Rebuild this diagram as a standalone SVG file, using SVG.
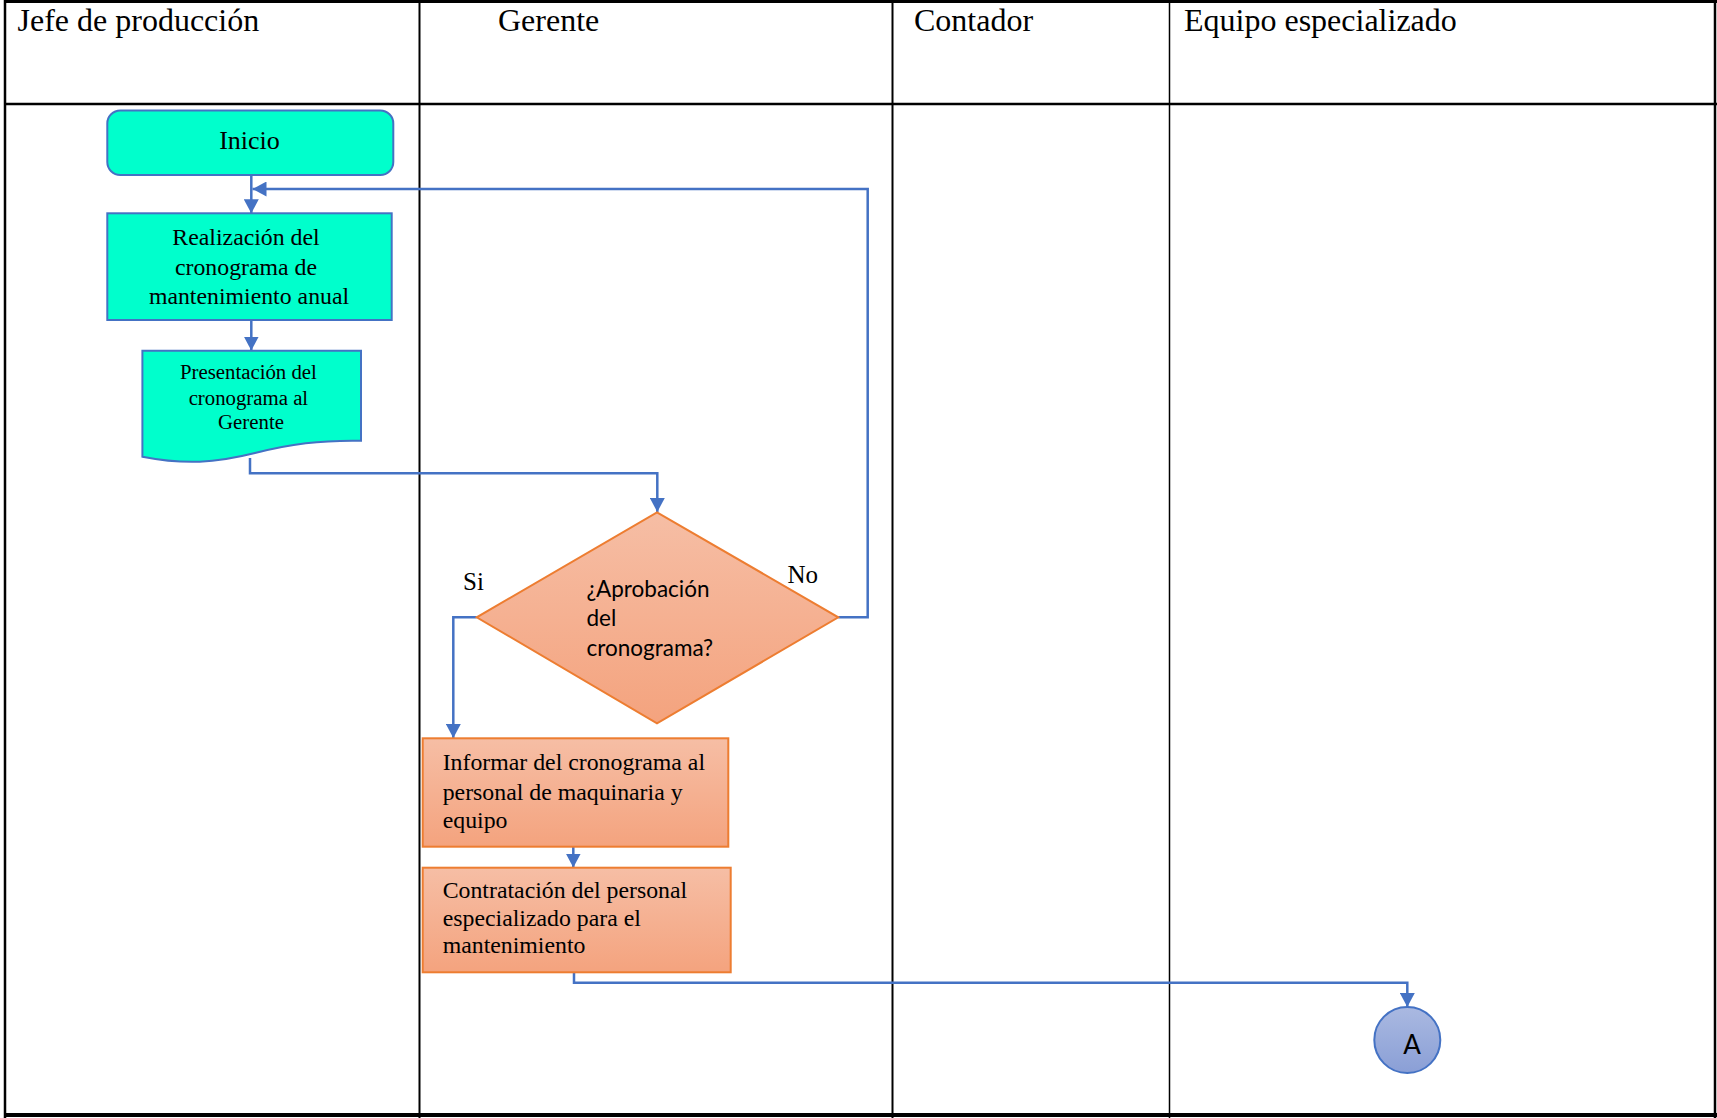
<svg xmlns="http://www.w3.org/2000/svg" width="1717" height="1118" viewBox="0 0 1717 1118">
  <style>
    .grid { stroke: #000; fill: none; }
    .hdr { font-family: "Liberation Serif", "Times New Roman", serif; font-size: 32px; fill: #000; }
    .serif { font-family: "Liberation Serif", "Times New Roman", serif; fill: #000; }
    .sans { font-family: Lato, "Liberation Sans", Arial, sans-serif; fill: #000; }
    .teal { fill: #00FFCC; stroke: #4472C4; stroke-width: 2; }
    .orange { fill: url(#gOrange); stroke: #ED7D31; stroke-width: 2; }
    .conn { fill: none; stroke: #4472C4; stroke-width: 2.5; marker-end: url(#arrow); }
  </style>
  <defs>
    <linearGradient id="gOrange" x1="0" y1="0" x2="0" y2="1">
      <stop offset="0" stop-color="#F6BEA5"/>
      <stop offset="1" stop-color="#F4A37E"/>
    </linearGradient>
    <linearGradient id="gBlue" x1="0" y1="0" x2="0" y2="1">
      <stop offset="0" stop-color="#AAB9E1"/>
      <stop offset="1" stop-color="#8A9FD6"/>
    </linearGradient>
    <marker id="arrow" viewBox="0 0 14 15" refX="14" refY="7.5" markerWidth="14" markerHeight="15" markerUnits="userSpaceOnUse" orient="auto">
      <path d="M0,0 L14,7.5 L0,15 Z" fill="#4472C4"/>
    </marker>
  </defs>

  <rect width="1717" height="1118" fill="#fff"/>

  <!-- swimlane table -->
  <g id="lanes">
    <line class="grid" x1="4" y1="1.5" x2="1717" y2="1.5" stroke-width="3"/>
    <line class="grid" x1="5" y1="0" x2="5" y2="1118" stroke-width="2.5"/>
    <line class="grid" x1="1715" y1="0" x2="1715" y2="1118" stroke-width="2.5"/>
    <line class="grid" x1="4" y1="104" x2="1717" y2="104" stroke-width="2.5"/>
    <line class="grid" x1="4" y1="1115" x2="1717" y2="1115" stroke-width="4"/>
    <line class="grid" x1="419.5" y1="0" x2="419.5" y2="1118" stroke-width="2"/>
    <line class="grid" x1="892.5" y1="0" x2="892.5" y2="1118" stroke-width="2"/>
    <line class="grid" x1="1169.5" y1="0" x2="1169.5" y2="1118" stroke-width="1.5"/>
    <text class="hdr" x="17.5" y="31">Jefe de producción</text>
    <text class="hdr" x="498" y="31">Gerente</text>
    <text class="hdr" x="914" y="31">Contador</text>
    <text class="hdr" x="1184" y="31">Equipo especializado</text>
  </g>

  <!-- connectors -->
  <g id="connectors">
    <path class="conn" d="M251.3,175 V213.3"/>
    <path class="conn" d="M838.3,617.3 H867.7 V189 H252.5"/>
    <path class="conn" d="M251.3,320 V350.5"/>
    <path class="conn" d="M250,458 V473.3 H657.3 V512"/>
    <path class="conn" d="M476.7,617.3 H453.3 V738"/>
    <path class="conn" d="M573.3,846.7 V867.5"/>
    <path class="conn" d="M574,972.3 V982.7 H1407.3 V1007"/>
    <text class="serif" x="463" y="590" font-size="25">Si</text>
    <text class="serif" x="787.5" y="583" font-size="25">No</text>
  </g>

  <g id="inicio">
    <rect class="teal" x="107.3" y="110.5" width="286" height="64.5" rx="13"/>
    <text class="serif" x="249.5" y="148.5" font-size="26" text-anchor="middle">Inicio</text>
  </g>

  <g id="realizacion">
    <rect class="teal" x="107.3" y="213.3" width="284.4" height="106.7"/>
    <text class="serif" font-size="23.8" text-anchor="middle">
      <tspan x="249" y="245">Realización del</tspan>
      <tspan x="249" y="275">cronograma de</tspan>
      <tspan x="249" y="303.5">mantenimiento anual</tspan>
    </text>
  </g>

  <g id="presentacion">
    <path class="teal" d="M142.4,350.7 H361 V440.7 C320,440 290,444 255,453 C215,463 185,465 142.4,456.7 Z"/>
    <text class="serif" font-size="20.8" text-anchor="middle">
      <tspan x="251" y="379">Presentación del</tspan>
      <tspan x="251" y="404.5">cronograma al</tspan>
      <tspan x="251" y="428.5">Gerente</tspan>
    </text>
  </g>

  <g id="aprobacion">
    <polygon class="orange" points="657,512.3 838.3,617.3 657,723.3 476.7,617.3"/>
    <text class="sans" font-size="22.5">
      <tspan x="586.5" y="596.5">¿Aprobación</tspan>
      <tspan x="586.5" y="626">del</tspan>
      <tspan x="586.5" y="655.5">cronograma?</tspan>
    </text>
  </g>

  <g id="informar">
    <rect class="orange" x="422.7" y="738.3" width="305.6" height="108.4"/>
    <text class="serif" font-size="23.8">
      <tspan x="442.7" y="770">Informar del cronograma al</tspan>
      <tspan x="442.7" y="800">personal de maquinaria y</tspan>
      <tspan x="442.7" y="828.3">equipo</tspan>
    </text>
  </g>

  <g id="contratacion">
    <rect class="orange" x="422.7" y="867.7" width="308" height="104.6"/>
    <text class="serif" font-size="23.8">
      <tspan x="442.7" y="898.3">Contratación del personal</tspan>
      <tspan x="442.7" y="925.5">especializado para el</tspan>
      <tspan x="442.7" y="953.3">mantenimiento</tspan>
    </text>
  </g>

  <g id="conector-a">
    <circle cx="1407.3" cy="1040" r="33" fill="url(#gBlue)" stroke="#4472C4" stroke-width="2"/>
    <text class="sans" x="1412" y="1053.5" font-size="26" text-anchor="middle">A</text>
  </g>
</svg>
